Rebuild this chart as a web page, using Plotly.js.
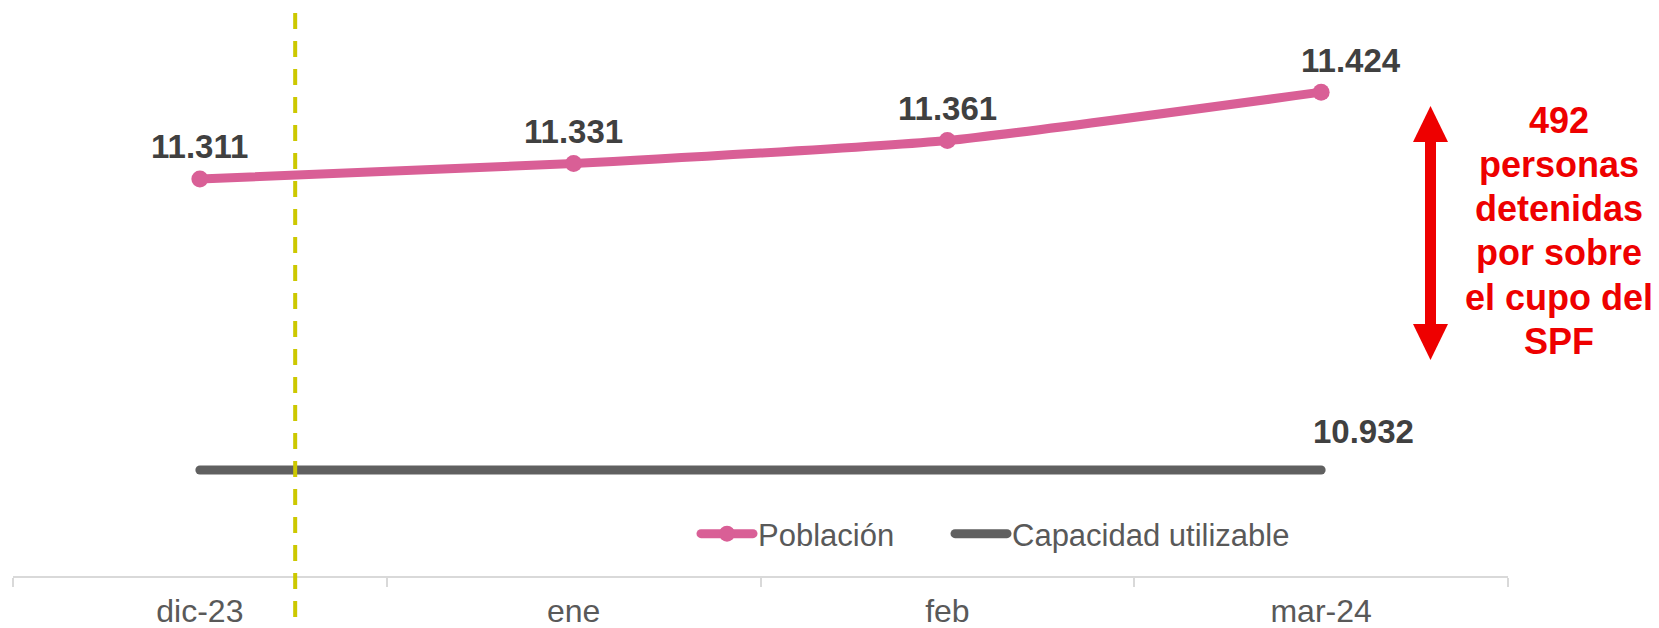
<!DOCTYPE html>
<html>
<head>
<meta charset="utf-8">
<script src="https://cdn.plot.ly/plotly-3.0.1.min.js"></script>
<style>
  html, body { margin: 0; padding: 0; background: #ffffff; }
  #chart { width: 1659px; height: 628px; }
  .js-line { stroke-linecap: round; stroke-linejoin: round; }
</style>
</head>
<body>
<div id="chart"></div>
<script>
// ---- data ----
const categories = ['dic-23', 'ene', 'feb', 'mar-24'];
const poblacion = [11311, 11331, 11361, 11424];
const capacidad = [10932, 10932, 10932, 10932];
const poblacionLabels = ['11.311', '11.331', '11.361', '11.424'];
const capacidadLabel = '10.932';
const seriesNames = ['Población', 'Capacidad utilizable'];
const noteLines = ['492', 'personas', 'detenidas', 'por sobre', 'el cupo del', 'SPF'];
const markerLinePos = 0.255; // category-axis position of the dashed reference line

// ---- layout helpers (pixel -> paper) ----
const W = 1659, H = 628;
const M = { l: 13, r: 151, t: 0, b: 52 };
const PW = W - M.l - M.r, PH = H - M.t - M.b;
const px = (x) => (x - M.l) / PW;
const py = (y) => (PH + M.t - y) / PH;

const FONT = 'Liberation Sans, Arial, Helvetica, sans-serif';
const pink = '#D95F96';
const gray = '#606060';
const red = '#EE0000';

const traces = [
  {
    x: categories, y: poblacion, name: seriesNames[0], type: 'scatter', mode: 'lines+markers',
    line: { color: pink, width: 9, shape: 'spline', smoothing: 0.5 },
    marker: { color: pink, size: 17 },
    legendwidth: 187,
    hoverinfo: 'skip'
  },
  {
    x: categories, y: capacidad, name: seriesNames[1], type: 'scatter', mode: 'lines',
    line: { color: gray, width: 9 },
    hoverinfo: 'skip'
  }
];

const labelFont = { family: FONT, size: 33, color: '#404040' };
const annotations = poblacionLabels.map((t, i) => ({
  x: categories[i], y: poblacion[i], xref: 'x', yref: 'y',
  text: '<b>' + t + '</b>', showarrow: false,
  xanchor: 'center', yanchor: 'middle',
  xshift: i === categories.length - 1 ? 30 : 0, yshift: 32,
  font: labelFont
}));
annotations.push({
  x: categories[categories.length - 1], y: capacidad[capacidad.length - 1], xref: 'x', yref: 'y',
  text: '<b>' + capacidadLabel + '</b>', showarrow: false,
  xanchor: 'center', yanchor: 'middle', xshift: 42, yshift: 39,
  font: labelFont
});
noteLines.forEach((line, i) => {
  annotations.push({
    x: px(1559), y: py(120 + i * 44.3), xref: 'paper', yref: 'paper',
    text: '<b>' + line + '</b>', showarrow: false,
    xanchor: 'center', yanchor: 'middle', align: 'center',
    font: { family: FONT, size: 36, color: red }
  });
});

const ax = 1430.5;
const shapes = [
  {
    type: 'line', xref: 'x', yref: 'paper',
    x0: markerLinePos, x1: markerLinePos, y0: py(13), y1: py(617),
    line: { color: '#CCC800', width: 4, dash: '16px,12px' }, layer: 'above'
  },
  {
    type: 'line', xref: 'paper', yref: 'paper',
    x0: px(ax), x1: px(ax), y0: py(138), y1: py(328),
    line: { color: red, width: 11 }
  },
  {
    type: 'path', xref: 'paper', yref: 'paper',
    path: `M${px(ax)},${py(106)} L${px(ax - 17.5)},${py(142)} L${px(ax + 17.5)},${py(142)} Z`,
    fillcolor: red, line: { width: 0 }
  },
  {
    type: 'path', xref: 'paper', yref: 'paper',
    path: `M${px(ax)},${py(360)} L${px(ax - 17.5)},${py(324)} L${px(ax + 17.5)},${py(324)} Z`,
    fillcolor: red, line: { width: 0 }
  }
];

const layout = {
  width: W, height: H,
  margin: M,
  paper_bgcolor: '#ffffff', plot_bgcolor: '#ffffff',
  font: { family: FONT, color: '#595959' },
  showlegend: true,
  legend: {
    orientation: 'h', x: px(696), y: py(534), xanchor: 'left', yanchor: 'middle',
    font: { family: FONT, size: 31, color: '#595959' },
    itemwidth: 52,
    bgcolor: 'rgba(0,0,0,0)', borderwidth: 0
  },
  xaxis: {
    type: 'category', range: [-0.5, 3.5], tickson: 'boundaries',
    showline: true, linecolor: '#D9D9D9', linewidth: 2,
    ticks: 'outside', ticklen: 9, tickcolor: '#D9D9D9', tickwidth: 2,
    ticklabelstandoff: 6,
    showgrid: false, zeroline: false,
    tickfont: { family: FONT, size: 32, color: '#595959' },
    fixedrange: true
  },
  yaxis: {
    range: [10794, 11544], visible: false, showgrid: false, zeroline: false, fixedrange: true
  },
  annotations: annotations,
  shapes: shapes
};

Plotly.newPlot('chart', traces, layout, { displayModeBar: false, staticPlot: true });
</script>
</body>
</html>
